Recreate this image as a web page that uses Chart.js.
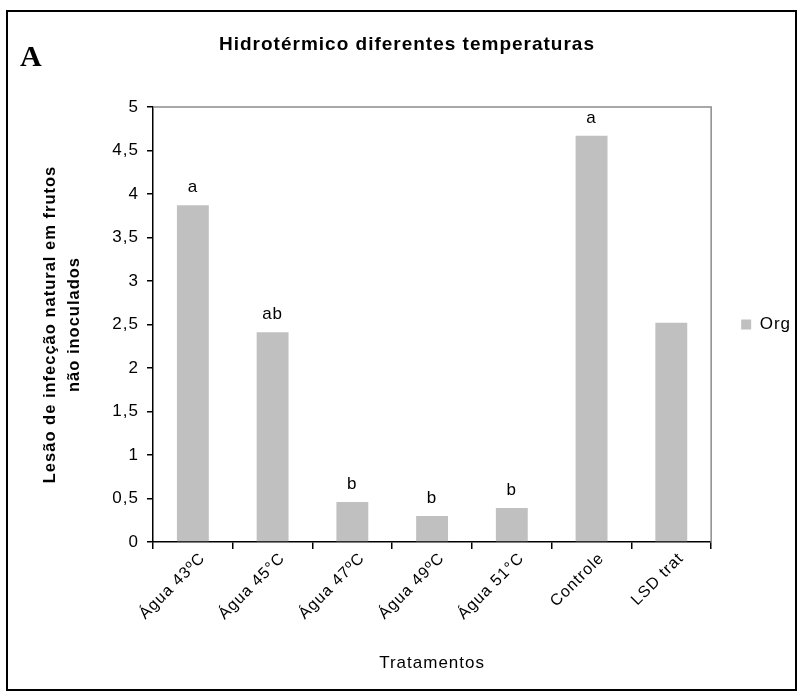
<!DOCTYPE html>
<html>
<head>
<meta charset="utf-8">
<script src="https://cdn.jsdelivr.net/npm/chart.js@4.4.0/dist/chart.umd.min.js"></script>
<style>
  html, body { margin: 0; padding: 0; background: #fff; }
  #wrap { width: 797px; height: 693px; }
</style>
</head>
<body>
<div id="wrap"><canvas id="chart" width="797" height="693"></canvas></div>
<script>
// Treatments on the x axis
const categories = ['Água 43ºC', 'Água 45°C', 'Água 47ºC', 'Água 49ºC', 'Água 51°C', 'Controle', 'LSD trat'];
// Natural infection lesions on non-inoculated fruit
const orgValues = [3.87, 2.41, 0.46, 0.30, 0.39, 4.67, 2.52];
// Mean separation letters shown above the bars
const significance = ['a', 'ab', 'b', 'b', 'b', 'a', ''];
// Y axis tick values
const yTicks = [0, 0.5, 1, 1.5, 2, 2.5, 3, 3.5, 4, 4.5, 5];

const FONT = '"Liberation Sans", Arial, Helvetica, sans-serif';
Chart.defaults.font.family = FONT;
Chart.defaults.color = '#000';

const spacing = {
  id: 'spacing',
  beforeUpdate(chart) { chart.ctx.letterSpacing = '1px'; },
  beforeLayout(chart) { chart.ctx.letterSpacing = '1px'; },
  beforeDraw(chart) { chart.ctx.letterSpacing = '1px'; }
};

const decorations = {
  id: 'decorations',
  afterDatasetsDraw(chart) {
    const ctx = chart.ctx;
    const a = chart.chartArea;
    ctx.save();
    // grey frame on the top and right of the plot area
    ctx.strokeStyle = '#8c8c8c';
    ctx.lineWidth = 1.5;
    ctx.beginPath();
    ctx.moveTo(a.left, a.top);
    ctx.lineTo(a.right, a.top);
    ctx.lineTo(a.right, a.bottom);
    ctx.stroke();
    // letters above the bars
    ctx.fillStyle = '#000';
    ctx.font = '17px ' + FONT;
    ctx.textAlign = 'center';
    ctx.textBaseline = 'alphabetic';
    const meta = chart.getDatasetMeta(0);
    meta.data.forEach((bar, i) => {
      if (significance[i]) ctx.fillText(significance[i], bar.x, bar.y - 13);
    });
    ctx.restore();
  },
  afterDraw(chart) {
    const ctx = chart.ctx;
    ctx.save();
    ctx.strokeStyle = '#000';
    ctx.lineWidth = 2;
    ctx.strokeRect(7, 11, 789, 679);
    ctx.letterSpacing = '0px';
    ctx.fillStyle = '#000';
    ctx.font = 'bold 30px "Liberation Serif", "Times New Roman", serif';
    ctx.textAlign = 'left';
    ctx.textBaseline = 'alphabetic';
    ctx.fillText('A', 20, 66);
    ctx.restore();
  }
};

new Chart(document.getElementById('chart'), {
  type: 'bar',
  data: {
    labels: categories,
    datasets: [{
      label: 'Org',
      data: orgValues,
      backgroundColor: '#c0c0c0',
      borderWidth: 0,
      categoryPercentage: 1,
      barPercentage: 0.4
    }]
  },
  options: {
    responsive: false,
    animation: false,
    layout: { padding: { left: 13, right: -4, top: 0, bottom: 0 } },
    plugins: {
      tooltip: { enabled: false },
      title: {
        display: true,
        text: 'Hidrotérmico diferentes temperaturas',
        color: '#000',
        font: { size: 19, weight: 'bold', lineHeight: 1.2 },
        padding: { top: 33.6, bottom: 50.6 }
      },
      legend: {
        position: 'right',
        fullSize: false,
        labels: {
          boxWidth: 10,
          boxHeight: 10,
          padding: 30,
          color: '#000',
          font: { size: 17 }
        }
      }
    },
    scales: {
      x: {
        offset: true,
        grid: { display: true, offset: true, drawOnChartArea: false, drawTicks: true, tickLength: 7, color: '#000', lineWidth: 1.5 },
        border: { display: true, color: '#000', width: 1.5 },
        ticks: { autoSkip: false, minRotation: 45, maxRotation: 45, padding: 0, labelOffset: 10, color: '#000', font: { size: 16 } },
        title: {
          display: true,
          text: 'Tratamentos',
          color: '#000',
          font: { size: 17, lineHeight: 1.2 },
          padding: { top: 0, bottom: 19.8 }
        },
        afterFit(scale) { scale.height = 151; }
      },
      y: {
        min: 0,
        max: 5,
        afterBuildTicks(scale) { scale.ticks = yTicks.map(v => ({ value: v })); },
        grid: { display: true, drawOnChartArea: false, drawTicks: true, tickLength: 6, color: '#000', lineWidth: 1.5 },
        border: { display: true, color: '#000', width: 1.5 },
        ticks: {
          padding: 8,
          color: '#000',
          font: { size: 17 },
          callback: v => String(v).replace('.', ',')
        },
        title: {
          display: true,
          text: ['Lesão de infecção natural em frutos', 'não inoculados'],
          color: '#000',
          font: { size: 16.5, weight: 'bold', lineHeight: 1.5 },
          padding: { top: 24.6, bottom: 0 }
        },
        afterFit(scale) { scale.width = 140; }
      }
    }
  },
  plugins: [spacing, decorations]
});
</script>
</body>
</html>
